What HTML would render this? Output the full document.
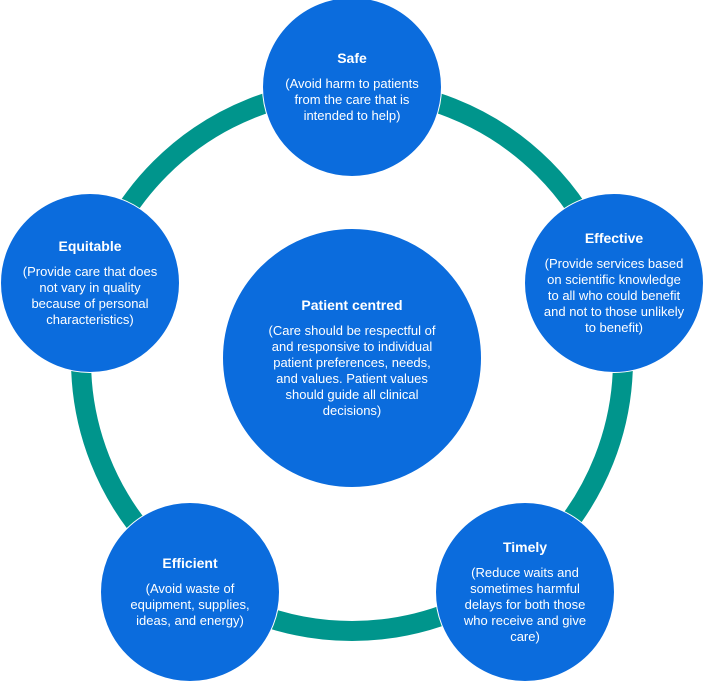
<!DOCTYPE html>
<html><head><style>
body{margin:0;width:704px;height:679px;background:#fff;overflow:hidden;position:relative;font-family:"Liberation Sans",Arial,sans-serif}
.c{position:absolute;border-radius:50%;background:#0B6CDD;color:#fff;display:flex;flex-direction:column;align-items:center;justify-content:center;text-align:center;box-sizing:border-box;border:1px solid #fff}
.c b{font-size:14px;margin-bottom:10px}
.c span{font-size:13px;line-height:16px}
</style></head><body>
<svg width="704" height="679" style="position:absolute;left:0;top:0">
<circle cx="352" cy="360" r="271" fill="none" stroke="#00958C" stroke-width="20"/>
</svg>
<div class="c" style="left:262px;top:-3px;width:180px;height:180px;padding:0 18px"><b>Safe</b><span>(Avoid harm to patients from the care that is intended to help)</span></div>
<div class="c" style="left:524px;top:193px;width:180px;height:180px;padding:0 16px"><b>Effective</b><span>(Provide services based on scientific knowledge to all who could benefit and not to those unlikely to benefit)</span></div>
<div class="c" style="left:435px;top:502px;width:180px;height:180px;padding:0 20px"><b>Timely</b><span>(Reduce waits and sometimes harmful delays for both those who receive and give care)</span></div>
<div class="c" style="left:100px;top:502px;width:180px;height:180px;padding:0 22px"><b>Efficient</b><span>(Avoid waste of equipment, supplies, ideas, and energy)</span></div>
<div class="c" style="left:0px;top:193px;width:180px;height:180px;padding:0 16px"><b>Equitable</b><span>(Provide care that does not vary in quality because of personal characteristics)</span></div>
<div class="c" style="left:222px;top:228px;width:260px;height:260px;padding:0 42px"><b>Patient centred</b><span>(Care should be respectful of and responsive to individual patient preferences, needs, and values. Patient values should guide all clinical decisions)</span></div>
</body></html>
